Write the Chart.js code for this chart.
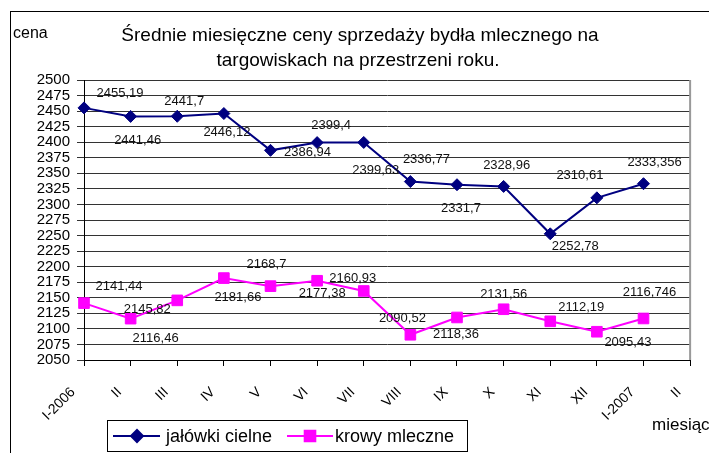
<!DOCTYPE html>
<html>
<head>
<meta charset="utf-8">
<script src="https://cdn.jsdelivr.net/npm/chart.js@4/dist/chart.umd.min.js"></script>
<style>
html, body { margin: 0; padding: 0; background: #fff; }
</style>
</head>
<body>
<canvas id="js--chart" width="709" height="453"></canvas>
<script>
/* dane z wykresu */
const months = ["I-2006", "II", "III", "IV", "V", "VI", "VII", "VIII", "IX", "X", "XI", "XII", "I-2007", "II"];
const jalowki = [2455.19, 2441.46, 2441.7, 2446.12, 2386.94, 2399.4, 2399.63, 2336.77, 2331.7, 2328.96, 2252.78, 2310.61, 2333.356];
const krowy = [2141.44, 2116.46, 2145.82, 2181.66, 2168.7, 2177.38, 2160.93, 2090.52, 2118.36, 2131.56, 2112.19, 2095.43, 2116.746];
const seriesNames = ["jałówki cielne", "krowy mleczne"];
const yMin = 2050;
const yMax = 2500;
const yStep = 25;
const titleLines = ["Średnie miesięczne ceny sprzedaży bydła mlecznego na", "targowiskach na przestrzeni roku."];

// przesuniecie etykiet danych (dx, dy) od punktu
const jalowkiOffsets = [[36, -14], [7, 24], [7, -15], [3, 19], [37, 2], [14, -17], [12, 28], [16, -22], [4, 24], [3, -21], [25, 13], [-17, -22], [11, -21]];
const krowyOffsets = [[35, -17], [25, 20], [-30, 9], [14, 19], [-4, -22], [5, 13], [-11, -13], [-8, -16], [-1, 17], [0, -15], [31, -14], [31, 11], [6, -26]];

const font = "'Liberation Sans', Arial, sans-serif";
const navy = "#000080";
const magenta = "#ff00ff";

const extras = {
    id: "extras",
    afterDraw: function (chart) {
        const ctx = chart.ctx;
        const area = chart.chartArea;
        ctx.save();

        // ramka
        ctx.strokeStyle = "#000";
        ctx.lineWidth = 1;
        ctx.strokeRect(10.5, 11.5, 800, 500);

        // prawa krawedz obszaru wykresu
        ctx.strokeStyle = "#999";
        ctx.lineWidth = 2;
        ctx.beginPath();
        ctx.moveTo(area.right, area.top);
        ctx.lineTo(area.right, area.bottom);
        ctx.stroke();

        // tytul
        ctx.fillStyle = "#000";
        ctx.textAlign = "center";
        ctx.textBaseline = "middle";
        ctx.font = "19px " + font;
        ctx.fillText(titleLines[0], 360, 36);
        ctx.fillText(titleLines[1], 358, 61);

        // tytuly osi
        ctx.textAlign = "left";
        ctx.font = "16px " + font;
        ctx.fillText("cena", 13, 34);
        ctx.font = "17px " + font;
        ctx.fillText("miesiąc", 652, 425);

        // etykiety danych
        ctx.font = "13px " + font;
        ctx.textAlign = "center";
        ctx.fillStyle = "#111";
        const offsets = [jalowkiOffsets, krowyOffsets];
        chart.data.datasets.forEach(function (ds, i) {
            const meta = chart.getDatasetMeta(i);
            meta.data.forEach(function (pt, j) {
                const txt = String(ds.data[j]).replace(".", ",");
                ctx.fillText(txt, pt.x + offsets[i][j][0], pt.y + offsets[i][j][1]);
            });
        });

        // legenda
        ctx.strokeStyle = "#000";
        ctx.lineWidth = 1;
        ctx.strokeRect(107.5, 420.5, 360, 31);
        const items = [
            { x1: 113, x2: 160, mx: 137, tx: 166, ds: chart.data.datasets[0] },
            { x1: 287, x2: 333, mx: 310, tx: 335, ds: chart.data.datasets[1] }
        ];
        ctx.font = "18px " + font;
        ctx.textAlign = "left";
        items.forEach(function (it) {
            ctx.strokeStyle = it.ds.borderColor;
            ctx.lineWidth = 2;
            ctx.beginPath();
            ctx.moveTo(it.x1, 436);
            ctx.lineTo(it.x2, 436);
            ctx.stroke();
            ctx.fillStyle = it.ds.backgroundColor;
            Chart.helpers.drawPoint(ctx, { pointStyle: it.ds.pointStyle, radius: it.ds.pointRadius, rotation: 0, borderWidth: 1 }, it.mx, 436);
            ctx.fillStyle = "#000";
            ctx.fillText(it.ds.label, it.tx, 437);
        });

        ctx.restore();
    }
};

const data = {
    labels: months,
    datasets: [
        {
            label: seriesNames[0],
            data: jalowki,
            borderColor: navy,
            backgroundColor: navy,
            borderWidth: 2,
            pointStyle: "rectRot",
            pointRadius: 6,
            pointBorderWidth: 1
        },
        {
            label: seriesNames[1],
            data: krowy,
            borderColor: magenta,
            backgroundColor: magenta,
            borderWidth: 2,
            pointStyle: "rect",
            pointRadius: 7.5,
            pointBorderWidth: 1
        }
    ]
};

const config = {
    type: "line",
    data: data,
    options: {
        responsive: false,
        animation: false,
        layout: {
            padding: { left: 10, right: 18, top: 80, bottom: 33 }
        },
        plugins: {
            legend: { display: false },
            title: { display: false },
            tooltip: { enabled: false }
        },
        scales: {
            x: {
                offset: false,
                grid: { drawOnChartArea: false, drawTicks: true, tickLength: 6, color: "#000" },
                border: { color: "#000", width: 1 },
                ticks: {
                    autoSkip: false,
                    maxRotation: 45,
                    minRotation: 45,
                    padding: 7,
                    color: "#000",
                    font: { family: font, size: 14 },
                    // spacje na koncu przesuwaja obrocona etykiete w dol i w lewo
                    callback: function (value) {
                        return this.getLabelForValue(value) + "    ";
                    }
                },
                afterFit: function (scale) {
                    scale.height = 60;
                }
            },
            y: {
                min: yMin,
                max: yMax,
                grid: { color: "#333", tickLength: 7 },
                border: { color: "#000", width: 1 },
                ticks: {
                    stepSize: yStep,
                    autoSkip: false,
                    padding: 7,
                    color: "#000",
                    font: { family: font, size: 15 },
                    callback: function (value) {
                        return String(value);
                    }
                },
                afterFit: function (scale) {
                    scale.width = 74;
                }
            }
        }
    },
    plugins: [extras]
};

new Chart(document.getElementById("js--chart"), config);
</script>
</body>
</html>
